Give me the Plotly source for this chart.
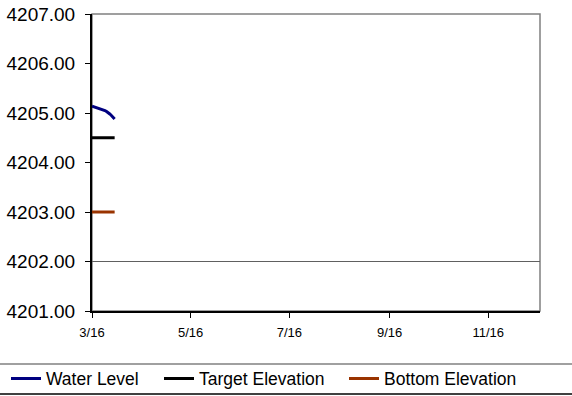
import plotly.graph_objects as go

dates = ["2016-03-01", "2016-03-02", "2016-03-03", "2016-03-04", "2016-03-05",
         "2016-03-06", "2016-03-07", "2016-03-08", "2016-03-09", "2016-03-10",
         "2016-03-11", "2016-03-12", "2016-03-13", "2016-03-14", "2016-03-15"]
water_level = [4205.14, 4205.13, 4205.12, 4205.11, 4205.10, 4205.09, 4205.08, 4205.06,
               4205.05, 4205.03, 4205.01, 4204.98, 4204.95, 4204.92, 4204.88]
target_dates = ["2016-03-01", "2016-03-15"]
target_elev = [4204.5, 4204.5]
bottom_dates = ["2016-03-01", "2016-03-15"]
bottom_elev = [4203.0, 4203.0]
grid_level = [4202]
x_range = ["2016-03-01", "2016-12-03"]
y_range = [4201, 4207]
series_names = ["Water Level", "Target Elevation", "Bottom Elevation"]
series_colors = ["#000080", "#000000", "#993300"]

FONT = "Liberation Sans, Arial, sans-serif"
W, H = 572, 396

fig = go.Figure()
fig.add_trace(go.Scatter(x=dates, y=water_level, mode="lines", name=series_names[0],
                         line=dict(color=series_colors[0], width=3), legend="legend"))
fig.add_trace(go.Scatter(x=target_dates, y=target_elev, mode="lines", name=series_names[1],
                         line=dict(color=series_colors[1], width=3), legend="legend2"))
fig.add_trace(go.Scatter(x=bottom_dates, y=bottom_elev, mode="lines", name=series_names[2],
                         line=dict(color=series_colors[2], width=3), legend="legend3"))
# invisible trace to activate yaxis2 grid
fig.add_trace(go.Scatter(x=[x_range[0]], y=[y_range[0]], yaxis="y2", mode="markers",
                         marker=dict(opacity=0), showlegend=False, hoverinfo="skip"))

leg_y = 1 - 378.5 / H


def leg(xpx):
    return dict(orientation="h", xref="container", yref="container",
                x=xpx / W, xanchor="left", y=leg_y, yanchor="middle",
                font=dict(size=17.5, family=FONT), bgcolor="rgba(0,0,0,0)")


fig.update_layout(
    width=W, height=H,
    margin=dict(l=92, r=32, t=14, b=85),
    paper_bgcolor="white", plot_bgcolor="white",
    font=dict(family=FONT, color="black"),
    xaxis=dict(type="date", range=x_range, tick0="2016-03-01", dtick="M2",
               tickformat="%-m/%y", ticks="outside", ticklen=5, tickcolor="black",
               showline=True, linecolor="black", linewidth=2, showgrid=False,
               zeroline=False, tickfont=dict(size=13, family=FONT),
               ticklabelstandoff=3, automargin=False, ticklabeloverflow="allow"),
    yaxis=dict(range=y_range, dtick=1, tickformat=".2f", ticks="outside", ticklen=5,
               tickcolor="black", showline=True, linecolor="black", linewidth=2,
               showgrid=False, zeroline=False, tickfont=dict(size=19, family=FONT),
               ticklabelstandoff=6, automargin=False, ticklabeloverflow="allow"),
    yaxis2=dict(overlaying="y", range=y_range, tickvals=grid_level, showgrid=True,
                gridcolor="#606060", gridwidth=1, showticklabels=False, showline=False,
                zeroline=False, ticks="", automargin=False),
    legend=leg(6),
    legend2=leg(159),
    legend3=leg(344),
    shapes=[
        dict(type="rect", xref="paper", yref="paper", x0=0, x1=1, y0=0, y1=1,
             line=dict(color="#808080", width=1.5), layer="below"),
        dict(type="line", xref="paper", yref="paper", x0=-0.3, x1=1.2,
             y0=-53 / 297, y1=-53 / 297, line=dict(color="#808080", width=1.5)),
        dict(type="line", xref="paper", yref="paper", x0=-0.3, x1=1.2,
             y0=-83 / 297, y1=-83 / 297, line=dict(color="#000000", width=1.5)),
    ],
    showlegend=True,
)

fig.write_html("out.html", config={"displayModeBar": False},
               post_script="document.body.style.margin='0';document.body.style.overflow='hidden';")
